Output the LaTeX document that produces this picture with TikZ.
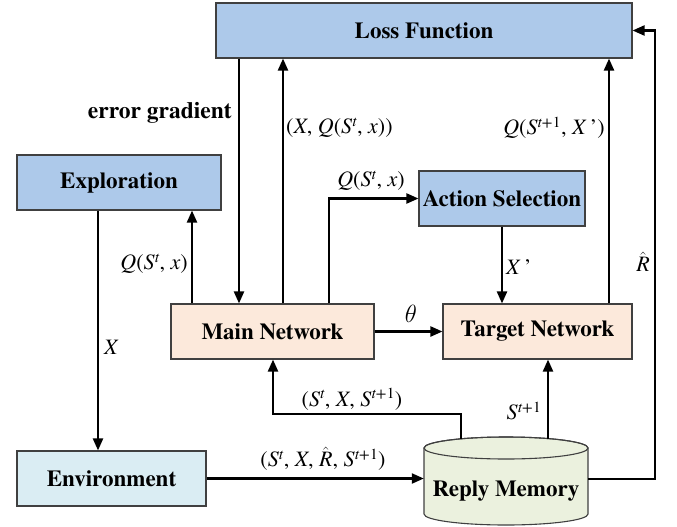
\documentclass[tikz,border=0pt]{standalone}
\usepackage{fontspec}
\IfFontExistsTF{texgyretermes-regular.otf}{%
  \setmainfont{texgyretermes}[Extension=.otf, UprightFont=*-regular, BoldFont=*-bold,
    ItalicFont=*-italic, BoldItalicFont=*-bolditalic]}{%
  \setmainfont{DejaVu Serif}}
\usetikzlibrary{arrows.meta,calc}
\definecolor{boxblue}{RGB}{173,201,234}
\definecolor{peach}{RGB}{252,233,219}
\definecolor{envcol}{RGB}{218,237,243}
\definecolor{cylcol}{RGB}{235,241,222}
\definecolor{bordercol}{RGB}{64,64,64}
\newcommand{\msup}[1]{\textsuperscript{\itshape #1}}
\newcommand{\mi}[1]{\textit{#1}}
\newcommand{\Rh}{$\hat{\hbox{\itshape R}}$}
\tikzset{
  blk/.style={draw=bordercol, line width=1.1pt, minimum height=55pt, inner sep=0pt,
    font=\fontsize{23}{26}\selectfont\bfseries},
  bluebox/.style={blk, fill=boxblue},
  netbox/.style={blk, fill=peach},
  envbox/.style={blk, fill=envcol},
  arr/.style={line width=2.2pt, -{Triangle[length=12pt,width=10pt]}},
  lbl/.style={font=\fontsize{22}{24}\selectfont, inner sep=1pt},
  blbl/.style={font=\fontsize{23.5}{26}\selectfont\bfseries, inner sep=1pt}
}
\begin{document}
\begin{tikzpicture}[x=1pt,y=-1pt]
\useasboundingbox (0,0) rectangle (677,527);
% nodes
\node[bluebox, minimum width=416pt] (loss) at (424,30.5) {Loss Function};
\node[bluebox, minimum width=204pt] (expl) at (119,182.5) {Exploration};
\node[bluebox, minimum width=166pt] (act) at (502,198.5) {Action Selection};
\node[netbox, minimum width=203pt] (main) at (272.5,331.5) {Main Network};
\node[netbox, minimum width=189pt] (target) at (537.5,331.5) {Target Network};
\node[envbox, minimum width=189pt] (env) at (111.5,478.5) {Environment};
% cylinder
\node[minimum width=164pt, minimum height=88pt, inner sep=0pt] (rm) at (506,481) {};
\filldraw[fill=cylcol, draw=bordercol, line width=1.1pt]
  (424,448) -- (424,514) arc[start angle=180, end angle=0, x radius=82, y radius=11]
  -- (588,448) arc[start angle=0, end angle=-180, x radius=82, y radius=11] -- cycle;
\draw[draw=bordercol, line width=1.1pt] (506,448) ellipse[x radius=82, y radius=11];
\node[font=\fontsize{23}{26}\selectfont\bfseries] (rmtext) at (506,491) {Reply Memory};
% helper coordinates
\coordinate (eg) at (239,0);
\coordinate (xq) at (283,0);
\coordinate (qe) at (192,0);
\coordinate (qa) at (329,0);
\coordinate (qt) at (609,0);
\coordinate (ex) at (98,0);
\coordinate (rx) at (655,0);
\coordinate (m1) at (461,439);
\coordinate (m2) at (461,414);
\coordinate (m3) at (273,414);
\coordinate (s1) at (548,439);
% connectors
\draw[arr] (loss.south -| eg) -- (main.north -| eg);
\draw[arr] (main.north -| xq) -- (loss.south -| xq);
\draw[arr] (main.north -| qe) -- (expl.south -| qe);
\draw[arr] (main.north -| qa) |- (act.west);
\draw[arr] (act.south) -- (target.north -| act.south);
\draw[arr] (main.east) -- (target.west);
\draw[arr] (target.north -| qt) -- (loss.south -| qt);
\draw[arr] (rm.east |- 0,479) -| (rx |- loss.east) -- (loss.east);
\draw[arr] (env.east) -- (env.east -| rm.west);
\draw[arr] (expl.south -| ex) -- (env.north -| ex);
\draw[arr] (m1) -- (m2) -- (m3) -- (main.south -| m3);
\draw[arr] (s1) -- (target.south -| s1);
% labels
\node[blbl, anchor=east] (lb1) at (233,113) {error gradient};
\node[lbl, anchor=west] (lb2) at (285,128) {(\mi{X}, \mi{Q}(\mi{S}\msup{t}, \mi{x}))};
\node[lbl, anchor=east] (lb3) at (606,128) {\mi{Q}(\mi{S}\msup{t+}\textsuperscript{1}, \mi{X}\,')};
\node[lbl, anchor=east] (lb4) at (189,264) {\mi{Q}(\mi{S}\msup{t}, \mi{x})};
\node[lbl, anchor=west] (lb5) at (103,347) {\mi{X}};
\node[lbl] (lb6) at (371,181) {\mi{Q}(\mi{S}\msup{t}, \mi{x})};
\node[lbl, anchor=west] (lb7) at (505,267) {\mi{X}\,'};
\node[font=\fontsize{28}{30}\selectfont] (lb8) at (411,314) {$\theta$};
\node[lbl] (lb9) at (643,262) {\Rh};
\node[lbl] (lb10) at (352,399) {(\mi{S}\msup{t}, \mi{X}, \mi{S}\msup{t+}\textsuperscript{1})};
\node[lbl] (lb11) at (524,411) {\mi{S}\msup{t+}\textsuperscript{1}};
\node[lbl] (lb12) at (323,459) {(\mi{S}\msup{t}, \mi{X}, \Rh, \mi{S}\msup{t+}\textsuperscript{1})};
\end{tikzpicture}
\end{document}
